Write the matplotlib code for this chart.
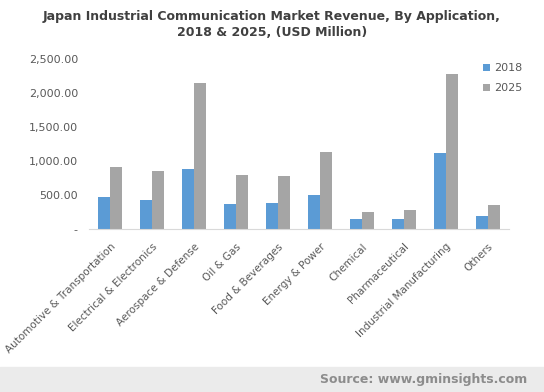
import numpy as np
import matplotlib.pyplot as plt
from matplotlib.patches import Rectangle

categories = ['Automotive & Transportation', 'Electrical & Electronics', 'Aerospace & Defense',
              'Oil & Gas', 'Food & Beverages', 'Energy & Power', 'Chemical',
              'Pharmaceutical', 'Industrial Manufacturing', 'Others']
rev_2018 = [474, 428, 887, 367, 383, 505, 143, 143, 1117, 189]
rev_2025 = [918, 857, 2142, 796, 780, 1132, 250, 280, 2275, 357]
yticks = [0, 500, 1000, 1500, 2000, 2500]
ytick_labels = ['-', '500.00', '1,000.00', '1,500.00', '2,000.00', '2,500.00']

fig = plt.figure(figsize=(5.44, 3.92), dpi=100)
ax = fig.add_axes([89/544, 1 - 229/392, 420/544, 170/392])

x = np.arange(len(categories))
w = 0.29
ax.bar(x - w/2, rev_2018, w, color='#5b9bd5', label='2018')
ax.bar(x + w/2, rev_2025, w, color='#a5a5a5', label='2025')

ax.set_xlim(-0.5, len(categories) - 0.5)
ax.set_ylim(0, 2500)
ax.set_yticks(yticks)
ax.set_yticklabels(ytick_labels, fontsize=8, color='#595959')
ax.set_xticks(x)
ax.set_xticklabels(categories, rotation=45, ha='right', va='top', rotation_mode='anchor',
                   fontsize=7.5, color='#595959')
ax.tick_params(axis='y', length=0, pad=8)
ax.tick_params(axis='x', length=0, pad=9)
for s in ['top', 'right', 'left']:
    ax.spines[s].set_visible(False)
ax.spines['bottom'].set_color('#d9d9d9')

ax.legend(loc='upper left', bbox_to_anchor=(0.915, 1.035), frameon=False, fontsize=8,
          handlelength=0.6, handleheight=0.6, handletextpad=0.4, labelspacing=0.9,
          labelcolor='#595959')

fig.text(0.5, 0.975, 'Japan Industrial Communication Market Revenue, By Application,\n2018 & 2025, (USD Million)',
         ha='center', va='top', fontsize=9, fontweight='bold', color='#404040', linespacing=1.3)

fig.patches.append(Rectangle((0, 0), 1, 25/392, transform=fig.transFigure,
                             color='#ebebeb', zorder=0))
fig.text(0.97, 12/392, 'Source: www.gminsights.com', ha='right', va='center',
         fontsize=9, fontweight='bold', color='#8c8c8c')

fig.savefig('out.png', dpi=100)
